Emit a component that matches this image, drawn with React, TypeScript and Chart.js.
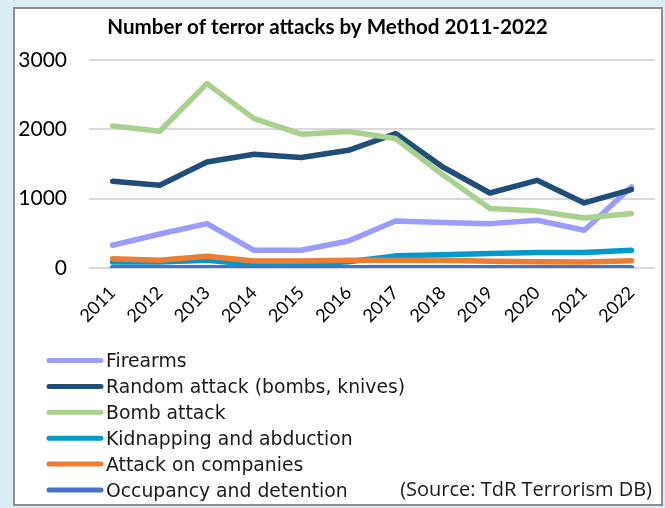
import React, { useEffect, useRef } from "react";
import { Chart, registerables } from "chart.js";

Chart.register(...registerables);

const years = ["2011", "2012", "2013", "2014", "2015", "2016", "2017", "2018", "2019", "2020", "2021", "2022"];
const firearms = [328, 490, 640, 255, 255, 390, 678, 655, 640, 688, 544, 1169];
const randomAttack = [1251, 1193, 1530, 1641, 1593, 1698, 1939, 1457, 1082, 1265, 938, 1131];
const bombAttack = [2050, 1973, 2660, 2155, 1930, 1970, 1867, 1345, 857, 823, 722, 785];
const kidnapping = [87, 85, 111, 50, 50, 90, 175, 190, 210, 225, 225, 255];
const companies = [135, 111, 169, 101, 100, 111, 111, 111, 97, 90, 87, 105];
const occupancy = [5, 5, 5, 3, 3, 3, 3, 3, 3, 3, 3, 3];

const seriesNames = [
  "Firearms",
  "Random attack (bombs, knives)",
  "Bomb attack",
  "Kidnapping and abduction",
  "Attack on companies",
  "Occupancy and detention",
];
const seriesColors = ["#9c9cfc", "#1f4e79", "#a9d18e", "#0099cc", "#ed7d31", "#4472c4"];
const seriesValues = [firearms, randomAttack, bombAttack, kidnapping, companies, occupancy];

const yTicks = [0, 1000, 2000, 3000];
const titleText = "Number of terror attacks by Method 2011-2022";
const sourceText = "(Source: TdR Terrorism DB)";

const legendPlugin = {
  id: "stackedLegend",
  afterDraw(chart: any) {
    const ctx = chart.ctx;
    ctx.save();
    chart.data.datasets.forEach((ds: any, i: number) => {
      const y = 360.5 + i * 25.9;
      ctx.beginPath();
      ctx.strokeStyle = ds.borderColor;
      ctx.lineWidth = 5;
      ctx.lineCap = "round";
      ctx.moveTo(49, y);
      ctx.lineTo(101, y);
      ctx.stroke();
      ctx.fillStyle = "#1a1a1a";
      ctx.font = "18.8px 'DejaVu Sans'";
      ctx.textAlign = "left";
      ctx.textBaseline = "alphabetic";
      ctx.fillText(ds.label, 106, y + 6.5);
    });
    ctx.font = "20px 'Open Sans'";
    ctx.textAlign = "right";
    ctx.fillStyle = "#1a1a1a";
    ctx.fillText(sourceText, 652, 496);
    ctx.restore();
  },
};

export default function App() {
  const ref = useRef<HTMLCanvasElement | null>(null);

  useEffect(() => {
    if (!ref.current) return;
    const n = seriesNames.length;
    const chart = new Chart(ref.current, {
      type: "line",
      data: {
        labels: years,
        datasets: seriesNames.map((name, i) => ({
          label: name,
          data: seriesValues[i],
          borderColor: seriesColors[i],
          backgroundColor: seriesColors[i],
          borderWidth: 5.5,
          pointRadius: 0,
          pointHoverRadius: 0,
          tension: 0,
          borderCapStyle: "round" as const,
          borderJoinStyle: "round" as const,
          order: n - i,
        })),
      },
      options: {
        animation: false,
        responsive: false,
        maintainAspectRatio: false,
        layout: { padding: { left: 0, right: 10, top: 0, bottom: 0 } },
        plugins: {
          legend: { display: false },
          tooltip: { enabled: false },
          title: {
            display: true,
            text: titleText,
            color: "#000",
            font: { family: "Lato", weight: "bold", size: 20.6, lineHeight: 1.2 },
            padding: { top: 15, bottom: 20.3 },
          },
        },
        scales: {
          x: {
            offset: true,
            grid: { display: false },
            border: { display: false },
            ticks: {
              minRotation: 45,
              maxRotation: 45,
              color: "#000",
              font: { family: "Lato", size: 18 },
              padding: 6,
            },
            afterFit: (scale: any) => {
              scale.height = 240;
            },
          },
          y: {
            min: 0,
            max: 3000,
            afterBuildTicks: (scale: any) => {
              scale.ticks = yTicks.map((v) => ({ value: v }));
            },
            grid: { color: "#d9d9d9", lineWidth: 2, drawTicks: false },
            border: { display: false },
            ticks: {
              color: "#000",
              font: { family: "Lato", size: 21 },
              padding: 22,
              callback: (v: any) => String(v),
            },
            afterFit: (scale: any) => {
              scale.width = 89;
            },
          },
        },
      },
      plugins: [legendPlugin],
    });
    return () => chart.destroy();
  }, []);

  return (
    <div
      style={{
        position: "fixed",
        left: 0,
        top: 0,
        width: 665,
        height: 508,
        background: "#daedf2",
        overflow: "hidden",
      }}
    >
      <div
        style={{
          position: "absolute",
          left: 13,
          top: 7,
          width: 646,
          height: 495,
          background: "#fff",
          border: "2px solid #8f8f8f",
        }}
      />
      <canvas
        ref={ref}
        width={665}
        height={508}
        style={{ position: "absolute", left: 0, top: 0, width: 665, height: 508 }}
      />
    </div>
  );
}
